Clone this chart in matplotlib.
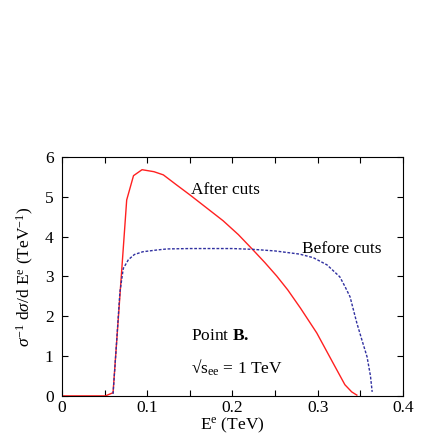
import matplotlib.pyplot as plt
import numpy as np
from matplotlib.ticker import MultipleLocator, FuncFormatter

plt.rcParams['font.family'] = ['Liberation Serif', 'DejaVu Serif']
plt.rcParams['mathtext.fontset'] = 'custom'
plt.rcParams['mathtext.rm'] = 'Liberation Serif'
plt.rcParams['mathtext.it'] = 'Liberation Serif:italic'
plt.rcParams['mathtext.bf'] = 'Liberation Serif:bold'

# after cuts (red, solid)
after_e = [0.0, 0.051, 0.060, 0.068, 0.076, 0.084, 0.094, 0.108, 0.119, 0.135, 0.150,
           0.162, 0.174, 0.189, 0.207, 0.224, 0.238, 0.252, 0.265, 0.280, 0.299, 0.318,
           0.332, 0.340, 0.346]
after_y = [0.0, 0.0, 0.08, 2.5, 4.92, 5.53, 5.68, 5.63, 5.55, 5.29, 5.05,
           4.85, 4.65, 4.40, 4.05, 3.67, 3.35, 3.01, 2.66, 2.20, 1.58, 0.83,
           0.28, 0.10, 0.02]

# before cuts (blue, dashed)
before_e = [0.060, 0.064, 0.068, 0.072, 0.078, 0.085, 0.095, 0.110, 0.123, 0.150, 0.200,
            0.224, 0.250, 0.279, 0.295, 0.311, 0.326, 0.332, 0.338, 0.346, 0.352, 0.358,
            0.362, 0.364]
before_y = [0.05, 1.3, 2.6, 3.2, 3.42, 3.55, 3.62, 3.66, 3.69, 3.70, 3.70,
            3.68, 3.64, 3.56, 3.47, 3.29, 2.99, 2.75, 2.49, 1.83, 1.40, 0.98,
            0.50, 0.10]

fig = plt.figure(figsize=(4.36, 4.36), dpi=100)
ax = fig.add_axes([0.142, 0.092, 0.782, 0.548])

ax.plot(after_e, after_y, color='#ff2020', lw=1.0)
ax.plot(before_e, before_y, color='#3030a0', lw=1.0, ls=(0, (2.0, 1.2)))

ax.set_xlim(0, 0.4)
ax.set_ylim(0, 6)
ax.xaxis.set_major_locator(MultipleLocator(0.05))
ax.xaxis.set_major_formatter(FuncFormatter(
    lambda v, p: ('0' if abs(v) < 1e-9 else '%g' % round(v, 2)) if abs(round(v / 0.1) * 0.1 - v) < 1e-6 else ''))
ax.yaxis.set_major_locator(MultipleLocator(1))
ax.tick_params(direction='in', top=True, right=True, length=4, labelsize=12.5)
ax.tick_params(axis='x', pad=3)
ax.tick_params(axis='y', pad=6)

ax.set_xlabel(r'E$^{\rm e}$ (TeV)', fontsize=12.5, labelpad=0)
ax.set_ylabel(r'$\sigma^{-1}$ d$\sigma$/d E$^{\rm e}$ (TeV$^{-1}$)', fontsize=12.5, labelpad=6)

ax.text(0.151, 5.18, 'After cuts', fontsize=12.5, va='center')
ax.text(0.282, 3.69, 'Before cuts', fontsize=12.5, va='center')
ax.text(0.151, 1.5, r'Point $\mathbf{B.}$', fontsize=12.5, va='center')
ax.text(0.151, 0.7, '\u221as$_{\\rm ee}$ = 1 TeV', fontsize=12.5, va='center')

fig.savefig('out.png', dpi=100)
